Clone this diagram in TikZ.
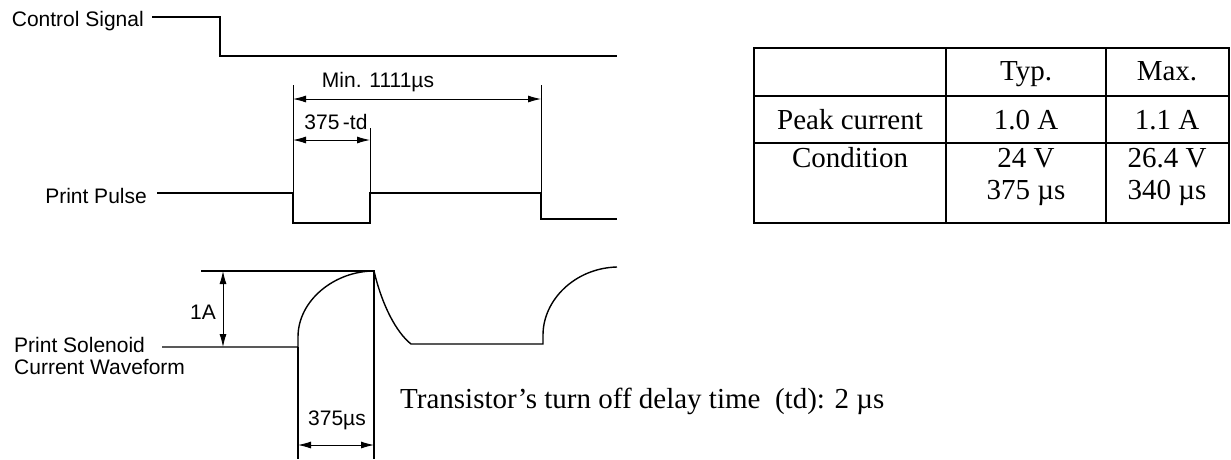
\documentclass[tikz,border=0pt]{standalone}
\usepackage{fontspec}
\setmainfont{Liberation Serif}
\setsansfont{Liberation Sans}
\usetikzlibrary{arrows.meta}

\tikzset{
  lbl/.style={font=\sffamily\fontsize{21}{22}\selectfont, inner sep=0pt},
  tbl/.style={font=\rmfamily\fontsize{29}{32}\selectfont, inner sep=0pt, anchor=base},
  wave/.style={line width=1.4pt, line join=miter},
  ext/.style={line width=0.9pt},
  dim/.style={line width=0.9pt, {Latex[length=13pt,width=7pt]}-{Latex[length=13pt,width=7pt]}}
}

\begin{document}
\begin{tikzpicture}[x=1pt, y=-1pt]
      \useasboundingbox (0,0) rectangle (1231,459);
      %% Signal names
      \node[lbl, anchor=east] (ctrl) at (144,21) {Control Signal};
      \node[lbl, anchor=east] (pulse) at (147,196) {Print Pulse};
      \node[lbl, anchor=north west, align=left] (sol) at (14,337) {Print Solenoid\\Current Waveform};
      %% Waveforms
      \draw[wave] (152,17) -- (220,17) -- (220,56) -- (617,56);
      \draw[wave] (157,193) -- (293,193) -- (293,223) -- (370,223) -- (370,193)
        -- (541,193) -- (541,219) -- (617,219);
      \draw[wave] (162,347) -- (298,347) -- (298,337)
        .. controls (298,300) and (335,271) .. (374,271);
      \draw[wave] (201,271) -- (374,271) -- (374,459);
      \draw[wave] (374,271) .. controls (382,305) and (396,332) .. (411,344)
        -- (543,344) -- (543,335) .. controls (543,300) and (575,268) .. (617,267);
      \draw[wave] (298,347) -- (298,459);
      %% Extension lines
      \draw[ext] (293,85) -- (293,193);
      \draw[ext] (541,85) -- (541,193);
      \draw[ext] (370,128) -- (370,193);
      %% Dimensions
      \coordinate (m1) at (293,99);
      \coordinate (m2) at (541,99);
      \coordinate (t1) at (293,140);
      \coordinate (t2) at (370,140);
      \coordinate (a1) at (223,271);
      \coordinate (a2) at (223,347);
      \coordinate (w1) at (298,445);
      \coordinate (w2) at (374,445);
      \draw[dim] (m1) -- (m2);
      \draw[dim] (t1) -- (t2);
      \draw[dim] (a1) -- (a2);
      \draw[dim] (w1) -- (w2);
      \node[lbl] (minlbl) at (378,82) {Min. 1111µs};
      \node[lbl] (tdlbl) at (336,122) {375\,-td};
      \node[lbl] (amp) at (203,312) {1A};
      \node[lbl] (width) at (337,420) {375µs};
      %% Note
      \node[tbl, anchor=base west] (note) at (400,408) {Transistor’s turn off delay time\ \ (td): 2 µs};
      %% Table
      \draw[line width=1.2pt] (754,96) -- (1229,96);
      \draw[line width=1.2pt] (754,143) -- (1229,143);
      \draw[line width=1.2pt] (946,48) -- (946,223);
      \draw[line width=1.2pt] (1106,48) -- (1106,223);
      \draw[line width=2.4pt] (754,48) rectangle (1229,223);
      \node[tbl] (typ) at (1026,80) {Typ.};
      \node[tbl] (max) at (1167,80) {Max.};
      \node[tbl] (peak) at (850,129) {Peak current};
      \node[tbl] (peaktyp) at (1026,129) {1.0 A};
      \node[tbl] (peakmax) at (1167,129) {1.1 A};
      \node[tbl] (cond) at (850,167) {Condition};
      \node[tbl] (volttyp) at (1026,167) {24 V};
      \node[tbl] (voltmax) at (1167,167) {26.4 V};
      \node[tbl] (timetyp) at (1026,199) {375 µs};
      \node[tbl] (timemax) at (1167,199) {340 µs};
\end{tikzpicture}
\end{document}
